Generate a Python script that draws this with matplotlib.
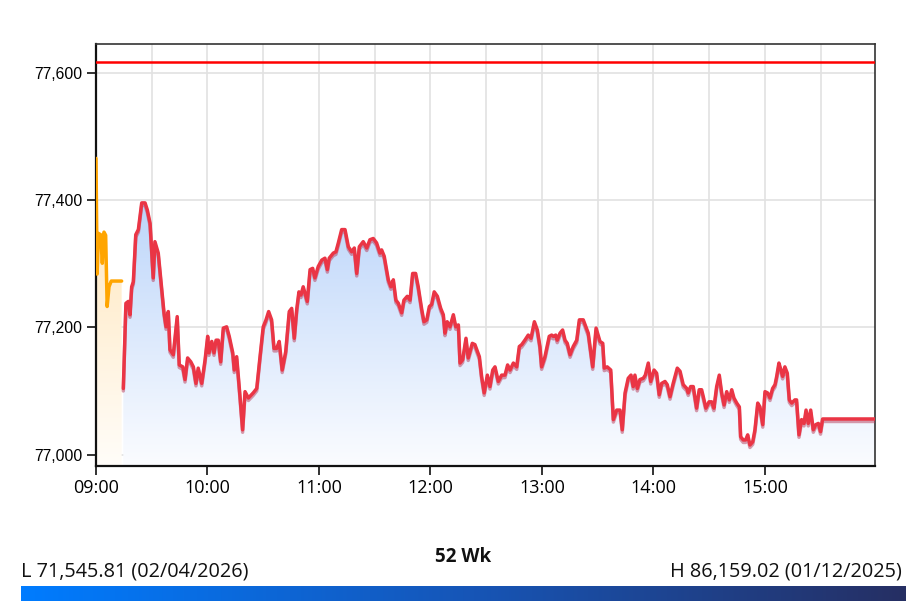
import numpy as np
import matplotlib
matplotlib.use('Agg')
import matplotlib.pyplot as plt
import matplotlib.patheffects as pe
from matplotlib.colors import LinearSegmentedColormap
from matplotlib.ticker import FuncFormatter

# ---- data (minutes after 09:00, index level) ----
pre_open_min = [0.0, 0.6, 1.3, 2.5, 3.4, 4.3, 5.2, 6.0, 7.0, 8.2, 13.8]
pre_open_val = [77466, 77284, 77348, 77346, 77301, 77350, 77345, 77233, 77264, 77273, 77273]

session_min = [
    14.7, 16.1, 17.4, 18.3, 19.2, 20.1, 21.4, 22.8, 24.6, 26.4, 27.6, 29.1, 30.8, 31.7, 33.5,
    35.4, 36.6, 37.7, 38.9, 39.8, 41.6, 43.7, 44.8, 46.7, 47.9, 49.3, 51.0, 52.4, 53.8, 55.0,
    56.9, 58.7, 60.1, 60.8, 62.3, 63.5, 64.6, 65.8, 67.1, 68.5, 70.3, 71.7, 73.6, 74.4, 75.7,
    77.5, 78.9, 80.2, 82.0, 84.6, 86.5, 88.2, 90.0, 91.5, 92.9, 94.5, 95.8, 97.2, 98.6, 100.2,
    102.1, 104.0, 105.3, 106.7, 108.0, 109.2, 110.3, 111.5, 113.7, 115.2, 116.6, 117.8, 119.6, 121.5, 123.2,
    124.5, 125.5, 127.7, 129.1, 130.4, 132.2, 134.0, 135.8, 137.6, 139.0, 140.3, 141.7, 143.8, 145.7, 147.4,
    149.2, 151.0, 152.8, 153.7, 155.1, 157.3, 158.7, 160.0, 161.4, 162.7, 164.5, 165.7, 167.5, 169.0, 170.4,
    172.0, 173.4, 175.3, 176.5, 178.0, 179.4, 180.6, 182.0, 183.7, 185.5, 186.9, 187.8, 189.0, 190.5, 192.3,
    193.6, 195.0, 195.9, 197.3, 199.1, 200.3, 202.5, 203.9, 206.3, 207.5, 208.9, 210.6, 212.0, 213.5, 214.7,
    216.5, 218.3, 220.1, 221.5, 222.8, 224.6, 226.4, 227.8, 229.1, 230.8, 232.6, 234.1, 235.9, 237.5, 238.9,
    239.8, 241.6, 243.9, 245.2, 246.1, 247.4, 248.2, 249.7, 251.1, 252.4, 253.6, 255.1, 256.8, 258.7, 260.1,
    262.2, 264.9, 267.3, 269.1, 271.2, 272.7, 273.5, 275.1, 277.0, 278.4, 280.2, 282.0, 283.2, 284.7, 286.4,
    287.9, 289.1, 290.0, 291.3, 292.7, 294.5, 295.6, 297.2, 298.5, 300.3, 301.7, 303.1, 304.4, 306.2, 307.4,
    308.9, 310.6, 312.8, 314.3, 316.0, 317.9, 318.7, 320.0, 321.4, 323.2, 324.6, 325.9, 326.8, 328.2, 329.9,
    331.3, 332.5, 334.0, 335.4, 336.7, 338.0, 339.4, 340.8, 342.1, 343.3, 344.8, 346.2, 346.9, 348.3, 349.6,
    350.7, 351.9, 353.4, 354.6, 356.1, 357.3, 358.8, 360.0, 361.4, 362.7, 364.1, 365.4, 366.3, 367.5, 368.6,
    369.5, 370.7, 372.0, 373.1, 374.4, 376.1, 377.0, 378.3, 379.7, 381.0, 382.1, 383.3, 384.6, 386.0, 387.3,
    388.7, 389.9, 391.0, 419.2,
]
session_val = [
    77104, 77238, 77241, 77220, 77264, 77272, 77346, 77354, 77396, 77396, 77385, 77364, 77278, 77335, 77317,
    77259, 77223, 77201, 77225, 77165, 77157, 77217, 77141, 77138, 77118, 77152, 77146, 77138, 77112, 77136,
    77112, 77149, 77186, 77160, 77178, 77160, 77180, 77180, 77146, 77199, 77201, 77186, 77160, 77133, 77154,
    77091, 77039, 77099, 77089, 77097, 77104, 77152, 77201, 77212, 77225, 77212, 77167, 77167, 77178, 77133,
    77162, 77225, 77230, 77183, 77228, 77256, 77251, 77264, 77241, 77291, 77293, 77278, 77296, 77306, 77309,
    77291, 77309, 77317, 77319, 77333, 77354, 77354, 77327, 77319, 77325, 77285, 77327, 77335, 77325, 77338,
    77340, 77333, 77317, 77322, 77312, 77275, 77264, 77275, 77243, 77238, 77223, 77243, 77249, 77243, 77285,
    77285, 77264, 77228, 77209, 77212, 77233, 77236, 77256, 77249, 77230, 77220, 77191, 77209, 77201, 77220,
    77201, 77204, 77144, 77149, 77183, 77152, 77175, 77173, 77154, 77123, 77097, 77125, 77107, 77133, 77138,
    77115, 77125, 77125, 77141, 77133, 77144, 77138, 77170, 77173, 77180, 77188, 77183, 77209, 77196, 77170,
    77138, 77154, 77186, 77188, 77186, 77188, 77180, 77191, 77196, 77180, 77175, 77157, 77170, 77180, 77212,
    77212, 77191, 77138, 77199, 77178, 77175, 77136, 77138, 77133, 77055, 77070, 77070, 77039, 77097, 77120,
    77125, 77107, 77125, 77104, 77118, 77120, 77125, 77144, 77115, 77133, 77128, 77094, 77112, 77115, 77110,
    77091, 77112, 77136, 77131, 77110, 77104, 77097, 77107, 77107, 77073, 77102, 77102, 77091, 77073, 77083,
    77083, 77073, 77107, 77125, 77097, 77078, 77099, 77086, 77102, 77089, 77081, 77075, 77028, 77023, 77023,
    77031, 77015, 77020, 77039, 77081, 77075, 77047, 77099, 77097, 77089, 77104, 77110, 77123, 77144, 77133,
    77123, 77138, 77128, 77086, 77081, 77086, 77086, 77031, 77055, 77049, 77070, 77049, 77070, 77039, 77047,
    77049, 77036, 77056, 77056,
]

prev_close = 77617
x_ticks = [0, 60, 120, 180, 240, 300, 360]
x_tick_labels = ['09:00', '10:00', '11:00', '12:00', '13:00', '14:00', '15:00']
x_grid = [30, 90, 150, 210, 270, 330, 390]
y_ticks = [77000, 77200, 77400, 77600]

low_text = 'L 71,545.81 (02/04/2026)'
high_text = 'H 86,159.02 (01/12/2025)'
range_title = '52 Wk'

x_end = 419.2
y_lo, y_hi = 76982, 77646


def gradient_fill(ax, x, y, bottom, c_top, c_bottom):
    poly = ax.fill_between(x, y, bottom, facecolor='none', edgecolor='none')
    cmap = LinearSegmentedColormap.from_list('g', [c_bottom, c_top])
    grad = np.linspace(0, 1, 256).reshape(-1, 1)
    im = ax.imshow(grad, cmap=cmap, aspect='auto', origin='lower',
                   extent=[min(x), max(x), bottom, max(y)], zorder=1)
    im.set_clip_path(poly.get_paths()[0], transform=ax.transData)


fig = plt.figure(figsize=(9.16, 6.13), dpi=100)
ax = fig.add_axes([96 / 916, 1 - 466 / 613, 779 / 916, 422 / 613])

gradient_fill(ax, pre_open_min, pre_open_val, y_lo, '#ffe3b3', '#fffdf9')
gradient_fill(ax, session_min, session_val, y_lo, '#bdd6fa', '#fbfcff')

ax.plot(pre_open_min, pre_open_val, color='#ffa500', lw=2.5, zorder=3,
        solid_joinstyle='round', solid_capstyle='round')
ax.plot(session_min, session_val, color='#ea3545', lw=2.5, zorder=4,
        solid_joinstyle='round', solid_capstyle='round',
        path_effects=[pe.SimpleLineShadow(offset=(0, -1.8), shadow_color='#b83a58',
                                          alpha=0.5),
                      pe.Normal()])
ax.axhline(prev_close, color='#ff0000', lw=1.8, zorder=5)

ax.set_xlim(0, x_end)
ax.set_ylim(y_lo, y_hi)

ax.set_xticks(x_ticks)
ax.set_xticklabels(x_tick_labels, fontfamily='Open Sans', fontsize=13)
ax.set_xticks(x_grid, minor=True)
ax.set_yticks(y_ticks)
ax.yaxis.set_major_formatter(FuncFormatter(lambda v, _: f'{v:,.0f}'))
for lab in ax.get_yticklabels():
    lab.set_fontfamily('Liberation Sans')
    lab.set_fontsize(11.3)

ax.tick_params(axis='both', which='major', length=6.3, width=1.3, color='#222222')
ax.tick_params(axis='x', which='major', pad=3)
ax.tick_params(axis='y', which='major', pad=3.5)
ax.tick_params(axis='x', which='minor', length=0)

ax.grid(True, which='both', color='#e2e2e2', lw=1.2, zorder=0)
ax.set_axisbelow(True)

for side in ['left', 'bottom']:
    ax.spines[side].set_linewidth(1.6)
    ax.spines[side].set_color('#111111')
for side in ['top', 'right']:
    ax.spines[side].set_linewidth(1.2)
    ax.spines[side].set_color('#333333')

# 52 week range
fig.text(21 / 916, 1 - 577 / 613, low_text, fontfamily='Open Sans', fontsize=14.3,
         va='baseline', ha='left', color='#111111')
fig.text(902 / 916, 1 - 577 / 613, high_text, fontfamily='Open Sans', fontsize=14.3,
         va='baseline', ha='right', color='#111111')
fig.text(463 / 916, 1 - 562 / 613, range_title, fontfamily='Open Sans', fontsize=13.5,
         fontweight='bold', va='baseline', ha='center', color='#111111')

bar_ax = fig.add_axes([21 / 916, 1 - 601 / 613, 885 / 916, 15 / 613])
bar_cmap = LinearSegmentedColormap.from_list('bar', ['#007cff', '#1656b8', '#262f63'])
bar_ax.imshow(np.linspace(0, 1, 512).reshape(1, -1), cmap=bar_cmap, aspect='auto')
bar_ax.set_axis_off()

fig.savefig('out.png', dpi=100)
